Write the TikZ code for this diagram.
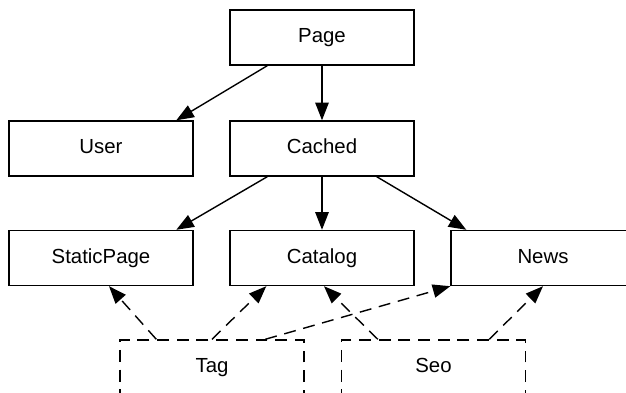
\documentclass[tikz,border=0pt]{standalone}
\usepackage{fontspec}
\setmainfont{Liberation Sans}
\usetikzlibrary{arrows.meta,positioning,calc}

\begin{document}
\begin{tikzpicture}[
  cls/.style={
    draw=black,
    line width=1pt,
    minimum width=4.6cm,
    minimum height=1.375cm,
    inner sep=0pt,
    text height=10.5pt,
    text depth=3pt,
    font=\fontsize{14.5}{17}\selectfont
  },
  mixin/.style={cls, dash pattern=on 8.5pt off 5.5pt},
  inherit/.style={-{Triangle[length=12.5pt,width=9.5pt]}, line width=1pt},
  uses/.style={inherit, dash pattern=on 8.5pt off 5.5pt}
]
\useasboundingbox (0,0) rectangle (15.65,9.825);
\clip (0,0) rectangle (15.65,9.825);

% -------- Classes --------
\node[cls] (page) at (8.05,8.8875) {Page};
\node[cls] (user) at (2.525,6.1125) {User};
\node[cls] (cached) at (8.05,6.1125) {Cached};
\node[cls] (staticpage) at (2.525,3.375) {StaticPage};
\node[cls] (catalog) at (8.05,3.375) {Catalog};
\node[cls] (news) at (13.575,3.375) {News};

% -------- Mixins --------
\node[mixin] (tag) at (5.3,0.6375) {Tag};
\node[mixin] (seo) at (10.8375,0.6375) {Seo};

% -------- Inheritance --------
\draw[inherit] ([xshift=0.95cm]page.south west) -- ([xshift=4.2cm]user.north west);
\draw[inherit] (page.south) -- (cached.north);
\draw[inherit] ([xshift=0.95cm]cached.south west) -- ([xshift=4.2cm]staticpage.north west);
\draw[inherit] (cached.south) -- (catalog.north);
\draw[inherit] ([xshift=-0.95cm]cached.south east) -- ([xshift=0.4cm]news.north west);

% -------- Mixin usage --------
\draw[uses] ([xshift=0.925cm]tag.north west) -- ([xshift=0.2cm]staticpage.south);
\draw[uses] (tag.north) -- ([xshift=0.925cm]catalog.south west);
\draw[uses] ([xshift=3.65cm]tag.north west) -- (news.south west);
\draw[uses] ([xshift=0.925cm]seo.north west) -- ([xshift=0.05cm]catalog.south);
\draw[uses] ([xshift=-0.925cm]seo.north east) -- (news.south);

\end{tikzpicture}
\end{document}
